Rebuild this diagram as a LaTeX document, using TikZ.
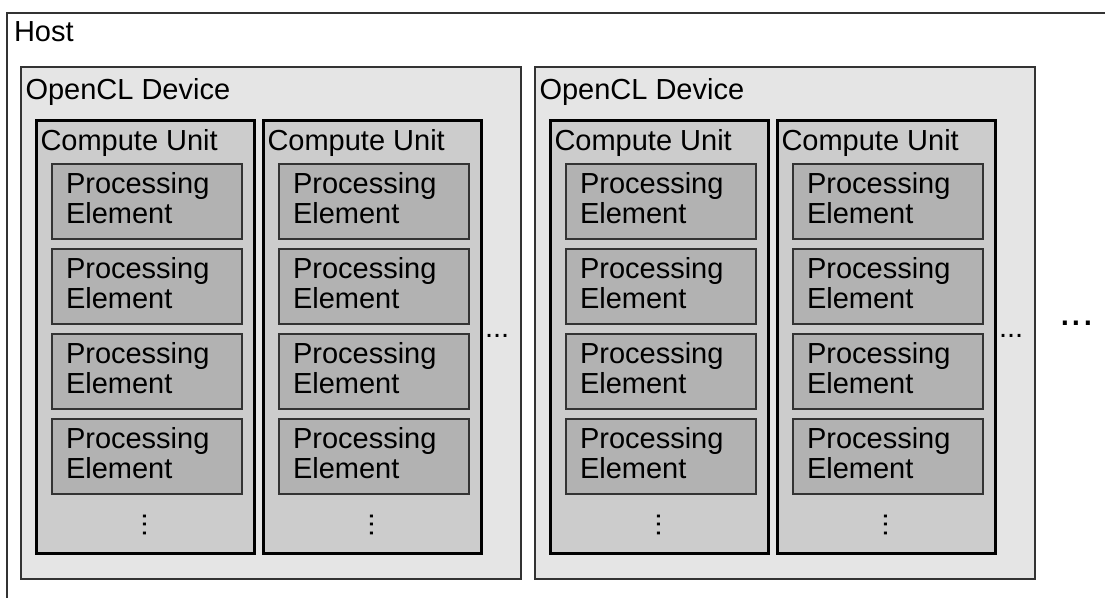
\documentclass[tikz,border=0pt]{standalone}
\usepackage{fontspec}
\setmainfont{Liberation Sans}
\definecolor{devgray}{gray}{0.9}
\definecolor{cugray}{gray}{0.8}
\definecolor{pegray}{gray}{0.7}
\definecolor{edgegray}{gray}{0.2}
\begin{document}
\begin{tikzpicture}[x=1pt,y=-1pt,
  box/.style={rectangle, anchor=north west, inner sep=0pt, outer sep=0pt},
  hostbox/.style={box, draw=edgegray, line width=1.3pt, fill=white, minimum width=1130pt, minimum height=620pt},
  devbox/.style={box, draw=edgegray, line width=1.5pt, fill=devgray, minimum width=500pt, minimum height=512pt},
  cubox/.style={box, draw=black, line width=3pt, fill=cugray, minimum width=218pt, minimum height=433pt},
  pebox/.style={box, draw=edgegray, line width=1.3pt, fill=pegray, minimum width=190pt, minimum height=75pt},
  lbl/.style={inner sep=0pt, outer sep=0pt, anchor=base west, font=\fontsize{29}{30}\selectfont, align=left},
  bigdots/.style={inner sep=0pt, outer sep=0pt, anchor=base west, font=\fontsize{42}{42}\selectfont}
]
\clip (0,0) rectangle (1105,597);
\node[hostbox] (host) at (7,13) {};
\node[lbl] (host-t) at (14,41) {Host};
\foreach \d/\dx in {1/21,2/535} {
  \node[devbox] (dev\d) at (\dx,67) {};
  \node[lbl] (dev\d-t) at ({\dx+4.5},99) {OpenCL Device};
  \foreach \c/\co in {1/15,2/242} {
    \node[cubox] (cu\d\c) at ({\dx+\co},120) {};
    \node[lbl] (cu\d\c-t) at ({\dx+\co+4.5},150) {Compute Unit};
    \foreach \p/\pt in {1/164,2/249,3/334,4/419} {
      \node[pebox] (pe\d\c\p) at ({\dx+\co+16},\pt) {};
      \node[lbl] (pe\d\c\p-t) at ({\dx+\co+30},{\pt+59}) {Processing\\Element};
    }
    \node[lbl, rotate=90] (vd\d\c) at ({\dx+\co+110.5},537) {...};
  }
  \node[lbl] (hd\d) at ({\dx+464},337.5) {...};
}
\node[bigdots] (more) at (1059,325.5) {...};
\end{tikzpicture}
\end{document}
